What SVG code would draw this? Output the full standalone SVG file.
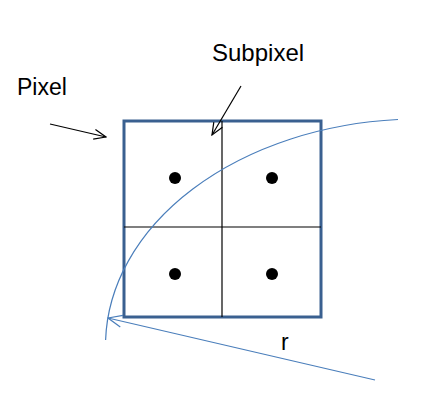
<svg xmlns="http://www.w3.org/2000/svg" width="432" height="402" viewBox="0 0 432 402">
<style>
.t{font-family:"Liberation Sans",Arial,sans-serif;font-size:23px;fill:#000}
.blk{stroke:#000;stroke-width:1.2;fill:none}
.blue{stroke:#4a7ebb;stroke-width:1.2;fill:none}
</style>
<defs>
<marker id="ak" markerWidth="14" markerHeight="12" refX="13" refY="6" orient="auto" markerUnits="userSpaceOnUse">
<path d="M1,1 L13,6 L1,11" fill="none" stroke="#000" stroke-width="1.2"/>
</marker>
<marker id="ab" markerWidth="16" markerHeight="14" refX="15" refY="7" orient="auto" markerUnits="userSpaceOnUse">
<path d="M1,1 L15,7 L1,13" fill="none" stroke="#4a7ebb" stroke-width="1.2"/>
</marker>
</defs>
<rect width="432" height="402" fill="#fff"/>
<g id="pixel">
<rect x="124" y="121" width="197" height="196" fill="none" stroke="#3a6090" stroke-width="3"/>
<line x1="222" y1="121" x2="222" y2="317" stroke="#000" stroke-width="1.2"/>
<line x1="124" y1="227" x2="321" y2="227" stroke="#000" stroke-width="1.2"/>
</g>
<g id="dots" fill="#000">
<circle cx="175" cy="178" r="6"/>
<circle cx="272" cy="178" r="6"/>
<circle cx="175" cy="274" r="6"/>
<circle cx="272" cy="274" r="6"/>
</g>
<g id="labels">
<text class="t" x="17" y="95">Pixel</text>
<text class="t" x="212" y="61" style="font-size:24px">Subpixel</text>
<text class="t" x="281" y="350">r</text>
</g>
<g id="connectors">
<line class="blk" x1="50" y1="124" x2="106" y2="137" marker-end="url(#ak)"/>
<line class="blk" x1="241" y1="86" x2="212" y2="135" marker-end="url(#ak)"/>
<path class="blue" d="M398,119.5 A314.5,227 0 0 0 105.6,340"/>
<line class="blue" x1="375" y1="380" x2="108" y2="318" marker-end="url(#ab)"/>
</g>
</svg>
